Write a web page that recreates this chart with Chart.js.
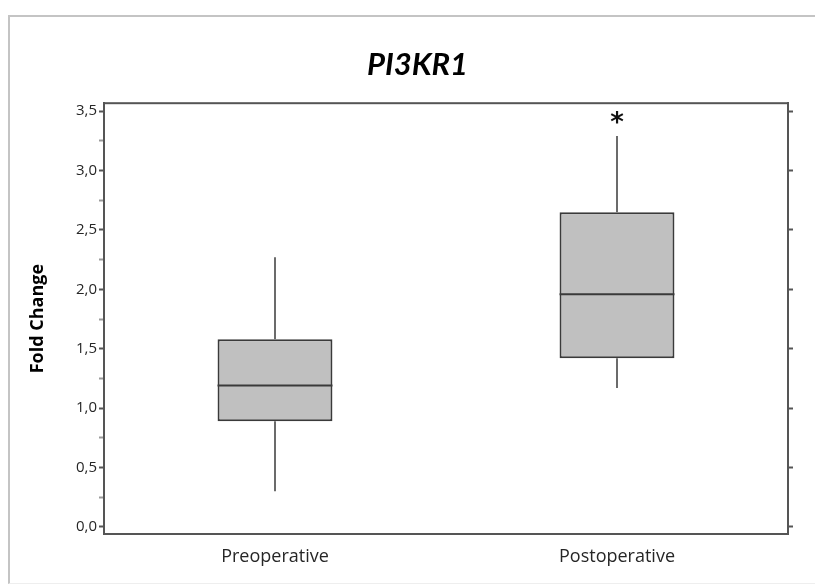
<!DOCTYPE html>
<html>
<head>
<meta charset="utf-8">
<script src="https://cdn.jsdelivr.net/npm/chart.js@4.4.1/dist/chart.umd.min.js"></script>
<style>
  html, body { margin: 0; padding: 0; background: #fff; }
  #wrap { position: relative; width: 815px; height: 588px; overflow: hidden; }
  #frame { position: absolute; left: 8px; top: 15px; width: 900px; height: 566px;
           border-top: 2px solid #c4c4c4; border-left: 2px solid #c4c4c4; border-bottom: 1px solid #eeeeee; }
  canvas { position: absolute; left: 0; top: 0; }
</style>
</head>
<body>
<div id="wrap">
  <div id="frame"></div>
  <canvas id="c" width="815" height="588"></canvas>
</div>
<script>
// ---- data ----
const categories = ["Preoperative", "Postoperative"];
const whiskerMin = [0.30, 1.17];
const q1Values   = [0.89, 1.42];
const medians    = [1.19, 1.96];
const q3Values   = [1.58, 2.65];
const whiskerMax = [2.27, 3.29];
const significance = ["", "*"];
const yTickValues = [0, 0.25, 0.5, 0.75, 1, 1.25, 1.5, 1.75, 2, 2.25, 2.5, 2.75, 3, 3.25, 3.5];
const yTickLabels = ["0,0", "", "0,5", "", "1,0", "", "1,5", "", "2,0", "", "2,5", "", "3,0", "", "3,5"];
const yMajorValues = [0, 0.5, 1, 1.5, 2, 2.5, 3, 3.5];
const chartTitle = "PI3KR1";
const yAxisTitle = "Fold Change";

const FONT = "'Open Sans', sans-serif";
const TITLE_FONT = "Lato, 'Open Sans', sans-serif";

const boxPlugin = {
  id: 'boxExtras',
  afterDatasetsDraw(chart) {
    const ctx = chart.ctx;
    const y = chart.scales.y;
    const meta = chart.getDatasetMeta(0);
    ctx.save();
    categories.forEach((c, i) => {
      const bar = meta.data[i];
      const x = bar.x;
      const half = bar.width / 2;
      ctx.strokeStyle = '#6b6b6b';
      ctx.lineWidth = 2;
      ctx.beginPath();
      ctx.moveTo(x, y.getPixelForValue(q3Values[i]));
      ctx.lineTo(x, y.getPixelForValue(whiskerMax[i]));
      ctx.moveTo(x, y.getPixelForValue(q1Values[i]));
      ctx.lineTo(x, y.getPixelForValue(whiskerMin[i]));
      ctx.stroke();
      ctx.strokeStyle = '#3a3a3a';
      ctx.lineWidth = 2;
      ctx.beginPath();
      const ym = y.getPixelForValue(medians[i]);
      ctx.moveTo(x - half, ym);
      ctx.lineTo(x + half, ym);
      ctx.stroke();
      if (significance[i]) {
        ctx.fillStyle = '#111';
        ctx.font = "bold 26px 'DejaVu Sans', sans-serif";
        ctx.textAlign = 'center';
        ctx.textBaseline = 'middle';
        ctx.fillText(significance[i], x, y.getPixelForValue(whiskerMax[i]) - 12);
      }
    });
    const a = chart.chartArea;
    ctx.strokeStyle = '#555';
    ctx.lineWidth = 2;
    ctx.strokeRect(a.left, a.top, a.right - a.left, a.bottom - a.top);
    ctx.restore();
  }
};

new Chart(document.getElementById('c'), {
  type: 'bar',
  data: {
    labels: categories,
    datasets: [{
      data: categories.map((c, i) => [q1Values[i], q3Values[i]]),
      backgroundColor: '#c0c0c0',
      borderColor: '#3a3a3a',
      borderWidth: 2,
      borderSkipped: false,
      barPercentage: 0.336,
      categoryPercentage: 1.0
    }]
  },
  options: {
    responsive: false,
    animation: false,
    devicePixelRatio: 1,
    layout: { padding: { left: 20, right: 0, top: 0, bottom: 0 } },
    plugins: {
      legend: { display: false },
      tooltip: { enabled: false },
      title: {
        display: true,
        text: chartTitle,
        color: '#000',
        font: { family: TITLE_FONT, size: 31, weight: 'bold', style: 'italic' },
        padding: { top: 46, bottom: 20 }
      }
    },
    scales: {
      x: {
        offset: true,
        grid: { display: false, drawTicks: false },
        border: { display: true, color: '#555', width: 2 },
        ticks: { color: '#262626', font: { family: FONT, size: 18 }, padding: 12 },
        afterFit(s) { s.height = 54; }
      },
      y: {
        position: 'left',
        min: -0.059,
        max: 3.567,
        afterBuildTicks(s) { s.ticks = yTickValues.map(v => ({ value: v })); },
        ticks: {
          color: '#262626',
          font: { family: FONT, size: 15 },
          padding: 2,
          callback(v, idx) { return yTickLabels[idx]; }
        },
        grid: {
          drawOnChartArea: false,
          drawTicks: true,
          tickLength: 5,
          tickWidth: 2,
          tickColor(ctx) { return ctx.index % 2 === 0 ? '#555' : '#9a9a9a'; }
        },
        border: { display: true, color: '#555', width: 2 },
        title: {
          display: true,
          text: yAxisTitle,
          color: '#000',
          font: { family: FONT, size: 18, weight: 'bold' },
          padding: { top: 7, bottom: 0 }
        },
        afterFit(s) { s.width = 84; }
      },
      y2: {
        position: 'right',
        min: -0.059,
        max: 3.567,
        afterBuildTicks(s) { s.ticks = yMajorValues.map(v => ({ value: v })); },
        ticks: { callback() { return ''; }, padding: 0 },
        grid: { drawOnChartArea: false, drawTicks: true, tickLength: 5, tickWidth: 2, tickColor: '#555' },
        border: { display: true, color: '#555', width: 2 },
        afterFit(s) { s.width = 27; }
      }
    }
  },
  plugins: [boxPlugin]
});
</script>
</body>
</html>
